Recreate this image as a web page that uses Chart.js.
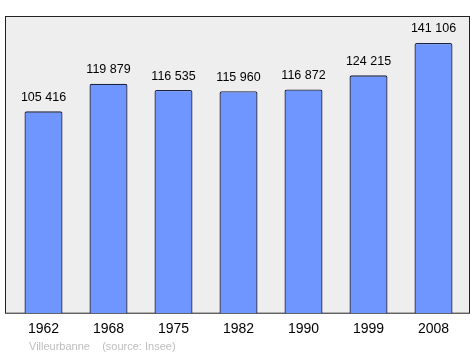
<!DOCTYPE html>
<html>
<head>
<meta charset="utf-8">
<script src="https://cdn.jsdelivr.net/npm/chart.js@4"></script>
<style>
  html, body { margin: 0; padding: 0; background: #fff; }
  #wrap { position: relative; width: 475px; height: 355px; }
  #note { position: absolute; left: 29px; top: 340px; font: 11px "Liberation Sans", Arial, sans-serif; color: #bdbdbd; white-space: pre; }
</style>
</head>
<body>
<div id="wrap">
  <canvas id="myChart" width="475" height="355"></canvas>
  <div id="note">Villeurbanne    (source: Insee)</div>
</div>
<script>
// Population data
const years = ['1962', '1968', '1975', '1982', '1990', '1999', '2008'];
const population = [105416, 119879, 116535, 115960, 116872, 124215, 141106];

const fmt = v => String(v).replace(/\B(?=(\d{3})+(?!\d))/g, ' ');

// gray frame behind the plot
const framePlugin = {
  id: 'frame',
  beforeDraw(chart) {
    const { ctx, chartArea: a } = chart;
    ctx.save();
    ctx.fillStyle = '#eeeeee';
    ctx.fillRect(a.left - 6, a.top, a.right - a.left + 10, a.bottom - a.top);
    ctx.strokeStyle = '#222';
    ctx.lineWidth = 1;
    ctx.strokeRect(a.left - 5.5, a.top + 0.5, a.right - a.left + 9, a.bottom - a.top - 0.5);
    ctx.restore();
  }
};

// value labels above bars
const labelPlugin = {
  id: 'labels',
  afterDatasetsDraw(chart) {
    const { ctx } = chart;
    const meta = chart.getDatasetMeta(0);
    ctx.save();
    ctx.font = '12.5px "Liberation Sans", Arial, sans-serif';
    ctx.fillStyle = '#000';
    ctx.textAlign = 'center';
    ctx.textBaseline = 'middle';
    meta.data.forEach((bar, i) => {
      ctx.fillText(fmt(population[i]), bar.x, bar.y - 14);
    });
    ctx.restore();
  }
};

const ctx = document.getElementById('myChart').getContext('2d');

const myChart = new Chart(ctx, {
  type: 'bar',
  data: {
    labels: years,
    datasets: [{
      data: population,
      backgroundColor: '#6f96fe',
      borderColor: '#1c2140',
      borderWidth: 1.3,
      borderRadius: 2,
      borderSkipped: 'bottom',
      barPercentage: 0.585,
      categoryPercentage: 1
    }]
  },
  options: {
    responsive: false,
    animation: false,
    layout: { padding: { top: 16, left: 11, right: 9, bottom: 9 } },
    plugins: { legend: { display: false }, tooltip: { enabled: false } },
    scales: {
      x: {
        grid: { display: false, drawTicks: false },
        border: { display: false },
        ticks: {
          color: '#000',
          padding: 8,
          font: { family: '"Liberation Sans", Arial, sans-serif', size: 14 }
        }
      },
      y: {
        display: false,
        min: 0,
        max: 155217
      }
    }
  },
  plugins: [framePlugin, labelPlugin]
});
</script>
</body>
</html>
